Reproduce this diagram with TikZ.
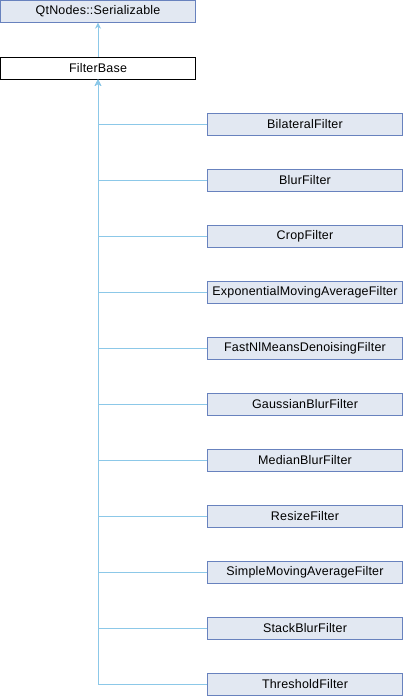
\documentclass[tikz,border=0pt]{standalone}
\usepackage{fontspec}
\setmainfont{Liberation Sans}[LetterSpace=1.5]
\usepackage{xcolor}
\usetikzlibrary{arrows.meta,positioning}

\definecolor{boxfill}{RGB}{226,232,242}
\definecolor{boxline}{RGB}{104,130,190}
\definecolor{inherit}{RGB}{140,200,232}

\begin{document}
\begin{tikzpicture}[x=1pt,y=-1pt,
    cls/.style={draw=boxline, fill=boxfill, minimum width=195pt, minimum height=22pt, inner sep=0pt, font=\fontsize{12.5}{14}\selectfont, text centered, text=black},
    base/.style={cls, draw=black, fill=white},
    inh/.style={draw=inherit, line width=0.8pt, {Stealth[length=6pt,width=6pt]}-}]
                        \useasboundingbox (0,0) rectangle (404,696);
                        \node[cls] (ser) at (98, 11.5) {QtNodes::Serializable};
                        \node[base] (fb) at (98, 68.5) {FilterBase};
                        \node[cls] (bil) at (305, 124) {BilateralFilter};
                        \node[cls] (blur) at (305, 180) {BlurFilter};
                        \node[cls] (crop) at (305, 236) {CropFilter};
                        \node[cls] (ema) at (305, 292) {ExponentialMovingAverageFilter};
                        \node[cls] (fnl) at (305, 348) {FastNlMeansDenoisingFilter};
                        \node[cls] (gauss) at (305, 404) {GaussianBlurFilter};
                        \node[cls] (med) at (305, 460) {MedianBlurFilter};
                        \node[cls] (res) at (305, 516) {ResizeFilter};
                        \node[cls] (sma) at (305, 572) {SimpleMovingAverageFilter};
                        \node[cls] (stack) at (305, 628) {StackBlurFilter};
                        \node[cls] (thr) at (305, 684) {ThresholdFilter};
                        \draw [inh] (ser) -- (fb);
                        \foreach \c in {bil,blur,crop,ema,fnl,gauss,med,res,sma,stack,thr}
                            \draw [inh] (fb) |- (\c.west);
                        \end{tikzpicture}
\end{document}
